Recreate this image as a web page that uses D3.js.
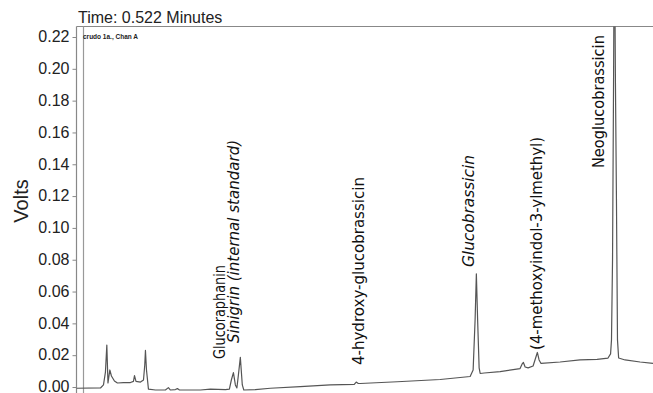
<!DOCTYPE html>
<html>
<head>
<meta charset="utf-8">
<script src="https://cdn.jsdelivr.net/npm/d3@7"></script>
<style>
  body { margin: 0; background: #fff; }
  svg { display: block; }
  .axis text { font-family: Arial, "Liberation Sans", sans-serif; font-size: 16px; fill: #222; }
  .axis path, .axis line { stroke: #888; }
  .peak { font-family: "DejaVu Sans", sans-serif; fill: #111; }
</style>
</head>
<body>
<svg id="vis" width="653" height="393"></svg>
<script>
// chromatogram trace, time in minutes / signal in volts
var times = [0, 2.08, 2.34, 2.51, 2.63, 2.73, 2.89, 3.03, 3.29, 3.55, 4.07, 4.68, 4.94, 5.03, 5.16,
  5.55, 5.81, 5.92, 5.98, 6.07, 6.24, 6.85, 7.71, 7.97, 8.15, 8.58, 8.75, 8.93, 10.75, 11.61,
  12.91, 13.26, 13.43, 13.61, 13.78, 13.91, 14.04, 14.21, 14.38, 14.51, 15.51, 16.81, 19.41,
  22.01, 24.09, 24.26, 24.44, 24.61, 27.82, 31.54, 34.14, 34.40, 34.57, 34.68, 34.79, 34.92,
  35.01, 35.36, 36.74, 38.47, 38.65, 38.76, 38.91, 39.17, 39.60, 39.82, 39.97, 40.12, 40.29,
  41.94, 43.67, 45.15, 46.10, 46.32, 46.40, 46.49, 46.58, 46.65, 46.74, 46.83, 46.92, 47.02,
  47.58, 48.88, 50.0];
var volts = [-0.0008, -0.0006, 0.0013, 0.0094, 0.0264, 0.0025, 0.0107, 0.0069, 0.0038, 0.0025,
  0.0028, 0.0028, 0.0035, 0.0072, 0.0035, 0.0031, 0.0044, 0.0138, 0.0230, 0.0107, -0.0013,
  -0.0019, -0.0019, -0.0004, -0.0019, -0.0016, -0.0010, -0.0019, -0.0019, -0.0013, -0.0016,
  -0.0013, 0.0044, 0.0090, 0.0013, -0.0006, 0.0075, 0.0186, 0.0013, -0.0019, -0.0016, -0.0008,
  0.0002, 0.0013, 0.0016, 0.0031, 0.0022, 0.0022, 0.0033, 0.0047, 0.0066, 0.0107, 0.0421,
  0.0711, 0.0421, 0.0120, 0.0085, 0.0088, 0.0097, 0.0116, 0.0145, 0.0154, 0.0126, 0.0120,
  0.0132, 0.0182, 0.0217, 0.0170, 0.0148, 0.0157, 0.0170, 0.0174, 0.0182, 0.0208, 0.0296,
  0.0799, 0.193, 0.30, 0.193, 0.118, 0.0296, 0.0182, 0.0170, 0.0157, 0.0149];

var yTicks = [0, 0.02, 0.04, 0.06, 0.08, 0.10, 0.12, 0.14, 0.16, 0.18, 0.20, 0.22];

// peak names, the time they sit at and where the text starts (volts)
var peakNames = ["Glucoraphanin", "Sinigrin (internal standard)", "4-hydroxy-glucobrassicin",
  "Glucobrassicin", "(4-methoxyindol-3-ylmethyl)", "Neoglucobrassicin"];
var peakTimes = [12.92, 14.08, 24.91, 34.48, 40.38, 45.77];
var peakStart = [0.0176, 0.0277, 0.0138, 0.0754, 0.0233, 0.1376];
var peakLen = [94, 203, 188, 112, 213, 133];
var peakItalic = [false, true, false, true, false, false];

var cursorTime = 0.522;

var vis = d3.select("#vis");
var W = 653, H = 393;
var plotLeft = 76.5, plotTop = 26.5;

var x = d3.scaleLinear().domain([0, 50]).range([plotLeft, W]);
var y = d3.scaleLinear().domain([0, 0.22]).range([387, 37]);

var g = vis.append("g");

g.append("clipPath").attr("id", "plotclip")
  .append("rect").attr("x", plotLeft).attr("y", plotTop).attr("width", W - plotLeft).attr("height", H - plotTop);

// frame: top border and cursor line
g.append("line").attr("x1", plotLeft).attr("x2", W).attr("y1", plotTop).attr("y2", plotTop)
  .attr("stroke", "#888").attr("stroke-width", 1.2);
g.append("line").attr("x1", Math.round(x(cursorTime)) + 0.5).attr("x2", Math.round(x(cursorTime)) + 0.5)
  .attr("y1", plotTop).attr("y2", H).attr("stroke", "#999").attr("stroke-width", 1.2);

// y axis
var yAxis = d3.axisLeft(y).tickValues(yTicks).tickFormat(d3.format(".2f")).tickSize(4).tickPadding(3);
var ya = g.append("g").attr("class", "axis").attr("transform", "translate(" + plotLeft + ",0)").call(yAxis);
ya.select(".domain").remove();
ya.append("line").attr("x1", 0).attr("x2", 0).attr("y1", plotTop).attr("y2", H)
  .attr("stroke", "#888").attr("stroke-width", 1.2);
ya.selectAll(".tick text").attr("dy", "0.3em");

g.append("text")
  .attr("transform", "translate(28,201) rotate(-90)")
  .attr("text-anchor", "middle")
  .style("font-family", "Arial, 'Liberation Sans', sans-serif")
  .style("font-size", "20px")
  .attr("fill", "#222")
  .text("Volts");

g.append("text").attr("x", 78).attr("y", 23)
  .style("font-family", "Arial, 'Liberation Sans', sans-serif")
  .style("font-size", "16px").attr("fill", "#222")
  .text("Time: " + cursorTime.toFixed(3) + " Minutes");

g.append("text").attr("x", 83).attr("y", 39)
  .style("font-family", "'Liberation Sans Narrow', Arial, sans-serif")
  .style("font-size", "8px").style("font-weight", "bold").attr("fill", "#222")
  .attr("textLength", 55).attr("lengthAdjust", "spacingAndGlyphs")
  .text("crudo 1a., Chan A");

// trace
var pts = times.map(function(t, i) { return [t, volts[i]]; });
var line = d3.line().x(function(d) { return x(d[0]); }).y(function(d) { return y(d[1]); });
g.append("path").datum(pts)
  .attr("clip-path", "url(#plotclip)")
  .attr("d", line)
  .attr("fill", "none")
  .attr("stroke", "#555")
  .attr("stroke-width", 1.2)
  .attr("stroke-linejoin", "round");

// peak labels
g.selectAll(".peak").data(peakNames).enter().append("text")
  .attr("class", "peak")
  .attr("transform", function(d, i) { return "translate(" + x(peakTimes[i]) + "," + y(peakStart[i]) + ") rotate(-90)"; })
  .style("font-size", "15px")
  .style("font-style", function(d, i) { return peakItalic[i] ? "italic" : "normal"; })
  .attr("textLength", function(d, i) { return peakLen[i]; })
  .attr("lengthAdjust", "spacingAndGlyphs")
  .text(function(d) { return d; });
</script>
</body>
</html>
